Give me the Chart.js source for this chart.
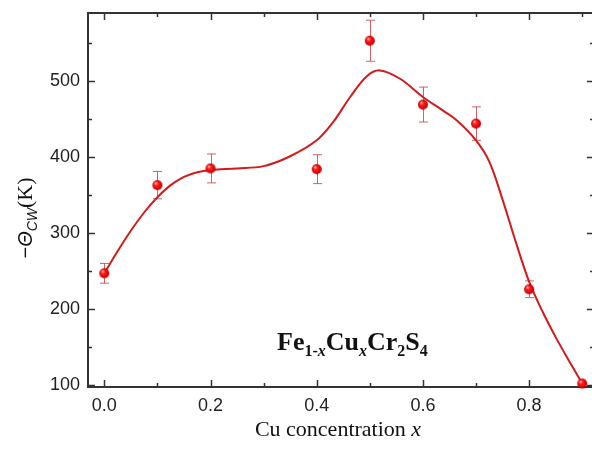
<!DOCTYPE html>
<html>
<head>
<meta charset="utf-8">
<script src="https://cdn.jsdelivr.net/npm/chart.js@4.4.0/dist/chart.umd.min.js"></script>
<style>
  html, body { margin: 0; padding: 0; background: #fff; overflow: hidden; }
  #wrap { width: 600px; height: 451px; }
</style>
</head>
<body>
<div id="wrap"><canvas id="chart" width="600" height="451"></canvas></div>
<script>
// measured points
const cuConc = [0, 0.1, 0.2, 0.4, 0.5, 0.6, 0.7, 0.8, 0.9];
const thetaCW = [247, 363, 385, 384, 553, 469, 444, 226, 102];
const thetaErr = [13, 18, 19, 19, 27, 23, 22, 11, 0];

// smooth guide line
const fitX = [0, 0.025, 0.05, 0.075, 0.1, 0.125, 0.15, 0.175, 0.2, 0.25, 0.3, 0.35, 0.4, 0.431, 0.463, 0.494, 0.519,
              0.557, 0.6, 0.638, 0.664, 0.7, 0.725, 0.75, 0.775, 0.8, 0.825, 0.85, 0.875, 0.9];
const fitY = [247, 276, 303, 327, 347, 363, 374, 380, 383, 385, 388, 401, 422, 446, 479, 506, 514,
              503, 479, 461, 448, 422, 394, 344, 288, 236, 197, 163, 132, 102];

const xTicks = [0, 0.2, 0.4, 0.6, 0.8];
const xMinor = [0.1, 0.3, 0.5, 0.7, 0.9];
const yTicks = [100, 200, 300, 400, 500];
const yMinor = [150, 250, 350, 450, 550];

const AXIS = '#333';

// red ball marker
function makeBall(r) {
  const c = document.createElement('canvas');
  c.width = c.height = r * 2 + 2;
  const g = c.getContext('2d');
  const cx = r + 1, cy = r + 1;
  const grad = g.createRadialGradient(cx - r * 0.35, cy - r * 0.4, 0.5, cx, cy, r);
  grad.addColorStop(0, '#ffb0b0');
  grad.addColorStop(0.3, '#ff2020');
  grad.addColorStop(0.8, '#e00000');
  grad.addColorStop(1, '#b00000');
  g.fillStyle = grad;
  g.beginPath();
  g.arc(cx, cy, r, 0, Math.PI * 2);
  g.fill();
  return c;
}

function drawRuns(ctx, runs, x, y) {
  runs.forEach(r => {
    ctx.font = r.font;
    ctx.fillText(r.text, x, y + (r.dy || 0));
    x += ctx.measureText(r.text).width;
  });
}
function runsWidth(ctx, runs) {
  let w = 0;
  runs.forEach(r => { ctx.font = r.font; w += ctx.measureText(r.text).width; });
  return w;
}

const framePlugin = {
  id: 'frame',
  beforeDatasetsDraw(chart) {
    const ctx = chart.ctx;
    const a = chart.chartArea;
    const xs = chart.scales.x, ys = chart.scales.y;
    ctx.save();
    ctx.strokeStyle = AXIS;
    ctx.lineWidth = 1.5;
    // ticks, all pointing inward
    const tick = (vals, len) => {
      vals.forEach(v => {
        const px = Math.round(xs.getPixelForValue(v)) + 0.5;
        ctx.beginPath();
        ctx.moveTo(px, a.bottom); ctx.lineTo(px, a.bottom - len);
        ctx.moveTo(px, a.top); ctx.lineTo(px, a.top + len);
        ctx.stroke();
      });
    };
    const tickY = (vals, len) => {
      vals.forEach(v => {
        const py = Math.round(ys.getPixelForValue(v)) + 0.5;
        ctx.beginPath();
        ctx.moveTo(a.left, py); ctx.lineTo(a.left + len, py);
        ctx.moveTo(a.right, py); ctx.lineTo(a.right - len, py);
        ctx.stroke();
      });
    };
    tick(xTicks, 7); tick(xMinor, 4);
    tickY(yTicks, 7); tickY(yMinor, 4);
    // frame
    ctx.lineWidth = 2;
    ctx.strokeRect(a.left, a.top, a.right - a.left, a.bottom - a.top);

    // error bars
    ctx.strokeStyle = 'rgba(200,70,70,0.85)';
    ctx.lineWidth = 1;
    cuConc.forEach((x, i) => {
      if (!thetaErr[i]) return;
      const px = Math.round(xs.getPixelForValue(x)) + 0.5;
      const hi = ys.getPixelForValue(thetaCW[i] + thetaErr[i]);
      const lo = ys.getPixelForValue(thetaCW[i] - thetaErr[i]);
      ctx.beginPath();
      ctx.moveTo(px, hi); ctx.lineTo(px, lo);
      ctx.moveTo(px - 4.5, hi); ctx.lineTo(px + 4.5, hi);
      ctx.moveTo(px - 4.5, lo); ctx.lineTo(px + 4.5, lo);
      ctx.stroke();
    });
    ctx.restore();
  },
  afterDraw(chart) {
    const ctx = chart.ctx;
    ctx.save();
    ctx.fillStyle = '#111';
    ctx.textBaseline = 'alphabetic';

    // x title
    const xt = [
      { text: 'Cu concentration ', font: '22px "Liberation Serif"' },
      { text: 'x', font: 'italic 22px "Liberation Serif"' }
    ];
    drawRuns(ctx, xt, 338 - runsWidth(ctx, xt) / 2, 436);

    // y title, rotated
    const yt = [
      { text: '\u2212', font: '20px "Liberation Sans"' },
      { text: '\u0398', font: 'italic 20px "Liberation Sans"' },
      { text: 'CW', font: 'italic 14px "Liberation Sans"', dy: 5 },
      { text: '(K)', font: '22px "Liberation Serif"' }
    ];
    ctx.translate(32, 218);
    ctx.rotate(-Math.PI / 2);
    drawRuns(ctx, yt, -runsWidth(ctx, yt) / 2, 0);
    ctx.setTransform(1, 0, 0, 1, 0, 0);

    // compound label
    const B = 'bold 26px "Liberation Serif"';
    const S = 'bold 16px "Liberation Serif"';
    const SI = 'italic bold 16px "Liberation Serif"';
    const lab = [
      { text: 'Fe', font: B },
      { text: '1-', font: S, dy: 6 },
      { text: 'x', font: SI, dy: 6 },
      { text: 'Cu', font: B },
      { text: 'x', font: SI, dy: 6 },
      { text: 'Cr', font: B },
      { text: '2', font: S, dy: 6 },
      { text: 'S', font: B },
      { text: '4', font: S, dy: 6 }
    ];
    drawRuns(ctx, lab, 277, 350);
    ctx.restore();
  }
};

const ball = makeBall(5);

new Chart(document.getElementById('chart'), {
  type: 'scatter',
  data: {
    datasets: [
      {
        label: 'fit',
        type: 'line',
        data: fitX.map((x, i) => ({ x: x, y: fitY[i] })),
        borderColor: '#d41a1a',
        borderWidth: 2,
        pointRadius: 0,
        fill: false,
        tension: 0.35,
        order: 2
      },
      {
        label: 'theta',
        data: cuConc.map((x, i) => ({ x: x, y: thetaCW[i] })),
        pointStyle: ball,
        pointRadius: 5,
        clip: false,
        order: 1
      }
    ]
  },
  options: {
    responsive: false,
    animation: false,
    layout: { padding: { top: 13, left: 0, right: 0, bottom: 0 } },
    plugins: { legend: { display: false }, tooltip: { enabled: false } },
    scales: {
      x: {
        type: 'linear',
        min: -0.0307,
        max: 0.9222,
        grid: { display: false, drawTicks: false },
        border: { display: false },
        afterBuildTicks: s => { s.ticks = xTicks.map(v => ({ value: v })); },
        afterFit: s => { s.height = 64; s.paddingLeft = 0; s.paddingRight = 0; },
        ticks: {
          padding: 8,
          color: '#222',
          font: { family: '"Liberation Sans"', size: 18 },
          callback: v => v.toFixed(1)
        }
      },
      y: {
        type: 'linear',
        min: 97.4,
        max: 589.5,
        grid: { display: false, drawTicks: false },
        border: { display: false },
        afterBuildTicks: s => { s.ticks = yTicks.map(v => ({ value: v })); },
        afterFit: s => { s.width = 88; s.paddingTop = 0; s.paddingBottom = 0; },
        ticks: {
          padding: 8,
          color: '#222',
          font: { family: '"Liberation Sans"', size: 18 },
          callback: v => String(v)
        }
      }
    }
  },
  plugins: [framePlugin]
});
</script>
</body>
</html>
